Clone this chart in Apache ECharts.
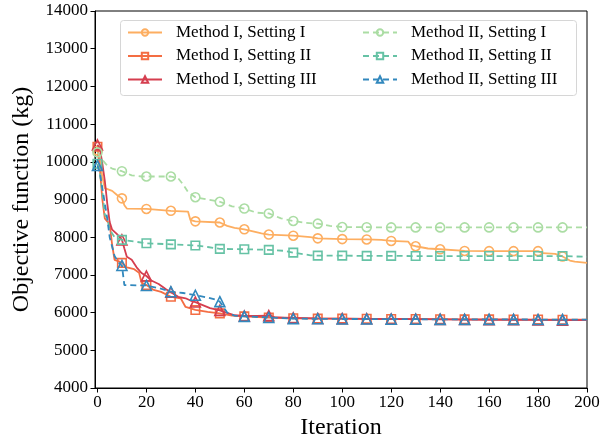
<!DOCTYPE html>
<html><head><meta charset="utf-8">
<script src="https://cdn.jsdelivr.net/npm/echarts@6/dist/echarts.min.js"></script>
<style>html,body{margin:0;padding:0;background:#fff}#c{width:601px;height:441px}</style>
</head><body><div id="c"></div>
<script>
const xTicks = [0,20,40,60,80,100,120,140,160,180,200];
const names = ['Method I, Setting I','Method I, Setting II','Method I, Setting III','Method II, Setting I','Method II, Setting II','Method II, Setting III'];

const m1s1 = [[0,10300],[1,10050],[2,9600],[3,9300],[6,9230],[8,9120],[10,9030],[11,8850],[12,8760],[20,8750],[30,8700],[37,8680],[38,8450],[40,8420],[50,8390],[53,8300],[56,8250],[60,8210],[64,8150],[67,8100],[70,8070],[80,8040],[87,8000],[90,7970],[100,7950],[110,7940],[116,7930],[120,7900],[127,7880],[128,7790],[130,7760],[135,7700],[140,7680],[150,7635],[160,7630],[170,7630],[180,7630],[182,7575],[187,7560],[190,7490],[193,7380],[195,7350],[200,7320]];
const m1s2 = [[0,10400],[1,9800],[2,9000],[3,8500],[4,8420],[5,8350],[6,7800],[7,7400],[9,7350],[10,7320],[12,7200],[15,7150],[17,7060],[18,6800],[20,6730],[23,6600],[26,6550],[30,6420],[34,6380],[36,6150],[40,6070],[45,6020],[50,5980],[55,5920],[60,5900],[70,5870],[80,5850],[90,5840],[100,5840],[110,5835],[120,5830],[130,5830],[140,5825],[150,5820],[160,5820],[170,5815],[180,5815],[190,5810],[200,5810]];
const m1s3 = [[0,10450],[1,10350],[2,9950],[3,9500],[4,8900],[5,8400],[6,8200],[8,8080],[10,7930],[11,7700],[12,7480],[14,7400],[16,7200],[18,7050],[20,6970],[22,6850],[25,6760],[28,6620],[30,6540],[33,6420],[36,6380],[38,6320],[40,6280],[43,6200],[46,6120],[50,6060],[53,5990],[56,5930],[60,5910],[65,5910],[70,5920],[73,5870],[80,5860],[90,5845],[100,5840],[110,5835],[120,5830],[130,5825],[140,5820],[150,5815],[160,5810],[170,5810],[180,5805],[190,5800],[200,5800]];
const m2s1 = [[0,10250],[2,10050],[4,9900],[6,9820],[10,9750],[14,9640],[18,9610],[20,9610],[30,9610],[33,9560],[35,9400],[37,9200],[40,9060],[45,9000],[50,8940],[55,8820],[60,8760],[65,8650],[70,8630],[75,8500],[80,8430],[85,8380],[90,8360],[95,8300],[100,8270],[110,8265],[120,8260],[130,8260],[140,8260],[150,8260],[160,8260],[170,8260],[180,8260],[190,8260],[200,8260]];
const m2s2 = [[0,9950],[1,9700],[2,9200],[3,8600],[4,8500],[5,8200],[7,8000],[10,7930],[20,7840],[30,7810],[40,7780],[45,7740],[50,7690],[60,7680],[70,7665],[76,7640],[80,7590],[87,7520],[90,7510],[100,7510],[110,7505],[120,7505],[130,7500],[140,7500],[150,7500],[160,7500],[170,7500],[180,7500],[190,7500],[195,7490],[200,7480]];
const m2s3 = [[0,9900],[1,9700],[2,9300],[3,8900],[4,8500],[5,8000],[7,7500],[9,7300],[10,7250],[11,6730],[20,6720],[25,6650],[30,6555],[35,6520],[40,6460],[45,6400],[48,6350],[50,6290],[53,6000],[56,5920],[60,5900],[70,5870],[80,5840],[90,5835],[100,5830],[110,5830],[120,5825],[130,5825],[140,5820],[150,5820],[160,5820],[170,5820],[180,5815],[190,5815],[200,5815]];

const colors = ['#fdae61','#f46d43','#d53e4f','#abdda4','#66c2a5','#3288bd'];
const symbols = ['circle','rect','triangle','circle','rect','triangle'];
const sizes = [9,8.5,10,9,8.5,10];
const dashed = [false,false,false,true,true,true];
const allData = [m1s1,m1s2,m1s3,m2s1,m2s2,m2s3];

const FONT = '"Liberation Serif", "Times New Roman", serif';

const series = allData.map((d,i)=>({
  type:'line', name:names[i],
  symbol:symbols[i], symbolSize:sizes[i], showAllSymbol:true,
  data:d.map(p=>({value:p, symbol:(p[0]%10===0 && p[0]<=190)?symbols[i]:'none'})),
  lineStyle:{color:colors[i], width:1.8, type:dashed[i]?[6,4]:'solid'},
  itemStyle:{color:'rgba(255,255,255,0)', borderColor:colors[i], borderWidth:1.6},
  emphasis:{disabled:true}, z:2+i
}));

const chart = echarts.init(document.getElementById('c'), null, {renderer:'canvas'});
const legendCommon = {
  orient:'vertical', itemWidth:34, itemHeight:8, itemGap:6.5, padding:0,
  textStyle:{fontFamily:FONT, fontSize:17, color:'#000', lineHeight:17, padding:[0,0,0,9]},
  selectedMode:false, z:10
};
chart.setOption({
  animation:false,
  grid:{left:95, right:14, top:11, bottom:53, containLabel:false, outerBoundsMode:'none',
    show:true, borderColor:'#000', borderWidth:1, backgroundColor:'transparent'},
  xAxis:{type:'value', min:-1, max:200, name:'Iteration', nameLocation:'middle', nameGap:27,
    nameTextStyle:{fontFamily:FONT, fontSize:24, color:'#000'},
    axisLine:{onZero:false, lineStyle:{color:'#000', width:1}},
    axisTick:{show:true, length:4.5, lineStyle:{color:'#000'}, customValues:xTicks},
    axisLabel:{fontFamily:FONT, fontSize:17, color:'#000', margin:6, customValues:xTicks},
    splitLine:{show:false}},
  yAxis:{type:'value', min:4000, max:14000, interval:1000, name:'Objective function (kg)', nameLocation:'middle', nameGap:61,
    nameTextStyle:{fontFamily:FONT, fontSize:24, color:'#000'},
    axisLine:{show:true, onZero:false, lineStyle:{color:'#000', width:1}},
    axisTick:{show:true, length:4.5, lineStyle:{color:'#000'}},
    axisLabel:{fontFamily:FONT, fontSize:17, color:'#000', margin:7, formatter:v=>String(v)},
    splitLine:{show:false}},
  graphic:[{type:'rect', z:9, shape:{x:120.5, y:20.5, width:456, height:75, r:3},
    style:{fill:'rgba(255,255,255,0.8)', stroke:'#d6d6d6', lineWidth:1}}],
  legend:[
    Object.assign({left:127, top:24, data:names.slice(0,3)}, legendCommon),
    Object.assign({left:362, top:24, data:names.slice(3,6)}, legendCommon)
  ],
  series
});
</script></body></html>
